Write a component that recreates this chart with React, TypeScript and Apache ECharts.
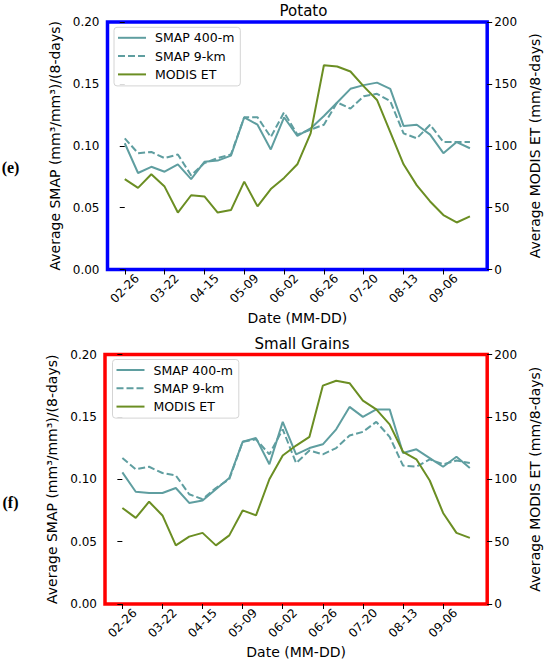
import React, { useEffect, useRef } from "react";
import * as echarts from "echarts";

const dates = [
  "02-26", "03-06", "03-14", "03-22", "03-30", "04-07", "04-15", "04-23", "05-01",
  "05-09", "05-17", "05-25", "06-02", "06-10", "06-18", "06-26", "07-04", "07-12",
  "07-20", "07-28", "08-05", "08-13", "08-21", "08-29", "09-06", "09-14", "09-22",
];
const tickIdx = [0, 3, 6, 9, 12, 15, 18, 21, 24];

const smap400Potato = [0.102, 0.078, 0.083, 0.079, 0.085, 0.073, 0.087, 0.088, 0.092, 0.123, 0.117, 0.097, 0.123, 0.108, 0.114, 0.124, 0.135, 0.146, 0.149, 0.151, 0.146, 0.116, 0.117, 0.109, 0.094, 0.103, 0.098];
const smap9Potato = [0.106, 0.094, 0.095, 0.090, 0.093, 0.076, 0.086, 0.090, 0.093, 0.123, 0.123, 0.107, 0.127, 0.109, 0.113, 0.117, 0.135, 0.130, 0.140, 0.142, 0.136, 0.110, 0.106, 0.117, 0.103, 0.103, 0.103];
const modisPotato = [73, 66, 77, 67, 46, 60, 59, 46, 48, 71, 51, 65, 74, 85, 110, 165, 164, 160, 148, 137, 111, 85, 68, 55, 44, 38, 43];

const smap400Grains = [0.1055, 0.090, 0.089, 0.089, 0.093, 0.081, 0.083, 0.092, 0.101, 0.130, 0.133, 0.112, 0.146, 0.120, 0.125, 0.128, 0.140, 0.158, 0.150, 0.156, 0.156, 0.121, 0.124, 0.117, 0.110, 0.118, 0.109];
const smap9Grains = [0.117, 0.108, 0.110, 0.105, 0.103, 0.088, 0.084, 0.093, 0.100, 0.130, 0.132, 0.120, 0.140, 0.113, 0.123, 0.120, 0.125, 0.135, 0.138, 0.146, 0.134, 0.111, 0.110, 0.116, 0.112, 0.115, 0.113];
const modisGrains = [77, 69, 82, 71, 47, 54, 57, 47, 55, 75, 71, 100, 119, 127, 134, 175, 179, 177, 163, 156, 144, 122, 116, 99, 73, 57, 53];

const seriesNames = ["SMAP 400-m", "SMAP 9-km", "MODIS ET"];
const panelTitles = ["Potato", "Small Grains"];
const panelTags = ["(e)", "(f)"];

const TEAL = "#5F9EA0";
const OLIVE = "#6B8E23";
const FONT = "DejaVu Sans";

export default function App() {
  const ref = useRef<HTMLDivElement>(null);

  useEffect(() => {
    if (!ref.current) return;
    const chart = echarts.init(ref.current, undefined, { renderer: "svg" });

    const grids = [
      { left: 107.5, right: 50.5, top: 22, height: 247.5, borderColor: "#0000FF" },
      { left: 105, right: 51.3, top: 354.5, height: 249.5, borderColor: "#FF0000" },
    ];

    const xAxes = grids.map((_, g) => ({
      type: "value",
      gridIndex: g,
      min: -1.3,
      max: 27.3,
      name: "Date (MM-DD)",
      nameLocation: "middle",
      nameGap: 41,
      nameTextStyle: { fontFamily: FONT, fontSize: 14, color: "#000" },
      axisLine: { show: false },
      splitLine: { show: false },
      axisTick: { show: true, length: 5, customValues: tickIdx, lineStyle: { color: "#000", width: 1 } },
      axisLabel: {
        customValues: tickIdx,
        formatter: (v: number) => dates[Math.round(v)] ?? "",
        rotate: 45,
        align: "center",
        verticalAlign: "middle",
        margin: 19,
        fontFamily: FONT,
        fontSize: 12,
        color: "#000",
      },
    }));

    const yAxes: any[] = [];
    grids.forEach((_, g) => {
      yAxes.push({
        type: "value",
        gridIndex: g,
        position: "left",
        min: 0,
        max: 0.2,
        interval: 0.05,
        name: "Average SMAP (mm³/mm³)/(8-days)",
        nameLocation: "middle",
        nameGap: 31,
        nameTextStyle: { fontFamily: FONT, fontSize: 14, color: "#000" },
        axisLine: { show: false },
        splitLine: { show: false },
        axisTick: { show: true, length: 5, lineStyle: { color: "#000", width: 1 } },
        axisLabel: { formatter: (v: number) => v.toFixed(2), margin: 8, fontFamily: FONT, fontSize: 12, color: "#000" },
      });
      yAxes.push({
        type: "value",
        gridIndex: g,
        position: "right",
        min: 0,
        max: 200,
        interval: 50,
        name: "Average MODIS ET (mm/8-days)",
        nameLocation: "middle",
        nameGap: 37,
        nameTextStyle: { fontFamily: FONT, fontSize: 14, color: "#000" },
        axisLine: { show: false },
        splitLine: { show: false },
        axisTick: { show: true, length: 5, lineStyle: { color: "#000", width: 1 } },
        axisLabel: { margin: 7, fontFamily: FONT, fontSize: 12, color: "#000" },
      });
    });

    const panels = [
      [smap400Potato, smap9Potato, modisPotato],
      [smap400Grains, smap9Grains, modisGrains],
    ];

    const series: any[] = [];
    panels.forEach((arrs, g) => {
      arrs.forEach((arr, k) => {
        series.push({
          type: "line",
          name: seriesNames[k],
          xAxisIndex: g,
          yAxisIndex: g * 2 + (k === 2 ? 1 : 0),
          data: arr.map((v, i) => [i, v]),
          symbol: "none",
          showSymbol: false,
          z: 2 + k,
          lineStyle: {
            width: 2,
            color: k === 2 ? OLIVE : TEAL,
            type: k === 1 ? [7, 3] : "solid",
          },
          itemStyle: { color: k === 2 ? OLIVE : TEAL },
        });
      });
    });

    const legendPos = [
      { left: 114, top: 27.3 },
      { left: 112.5, top: 359.5 },
    ];

    const legends = legendPos.map((p) => ({
      left: p.left,
      top: p.top,
      orient: "vertical",
      data: seriesNames,
      backgroundColor: "rgba(255,255,255,0.85)",
      borderColor: "#d4d4d4",
      borderWidth: 1,
      borderRadius: 3,
      padding: [4, 6, 5, 3],
      itemWidth: 28,
      itemHeight: 14,
      itemGap: 5.3,
      selectedMode: false,
      itemStyle: { opacity: 0 },
      textStyle: { fontFamily: FONT, fontSize: 12.5, color: "#000", padding: [0, 0, 0, 4] },
    }));

    const titlePos = [
      { x: 303.5, y: 11 },
      { x: 302, y: 344 },
    ];
    const tagPos = [
      { x: 10.5, y: 167 },
      { x: 10.5, y: 502 },
    ];

    const graphics: any[] = [];
    panelTitles.forEach((t, i) => {
      graphics.push({
        type: "text",
        x: titlePos[i].x,
        y: titlePos[i].y,
        style: { text: t, fontFamily: FONT, fontSize: 15, fill: "#000", textAlign: "center", textVerticalAlign: "middle" },
      });
      graphics.push({
        type: "text",
        x: tagPos[i].x,
        y: tagPos[i].y,
        style: { text: panelTags[i], fontFamily: "Liberation Serif", fontSize: 16, fontWeight: "bold", fill: "#000", textAlign: "center", textVerticalAlign: "middle" },
      });
    });

    chart.setOption({
      animation: false,
      backgroundColor: "#fff",
      grid: grids.map((g) => ({
        left: g.left,
        right: g.right,
        top: g.top,
        height: g.height,
        show: true,
        borderColor: g.borderColor,
        borderWidth: 3.5,
        backgroundColor: "transparent",
        containLabel: false,
      })),
      xAxis: xAxes,
      yAxis: yAxes,
      legend: legends,
      series,
      graphic: graphics,
    });

    return () => chart.dispose();
  }, []);

  return (
    <div
      ref={ref}
      style={{ position: "absolute", left: 0, top: 0, width: 550, height: 664 }}
    />
  );
}
